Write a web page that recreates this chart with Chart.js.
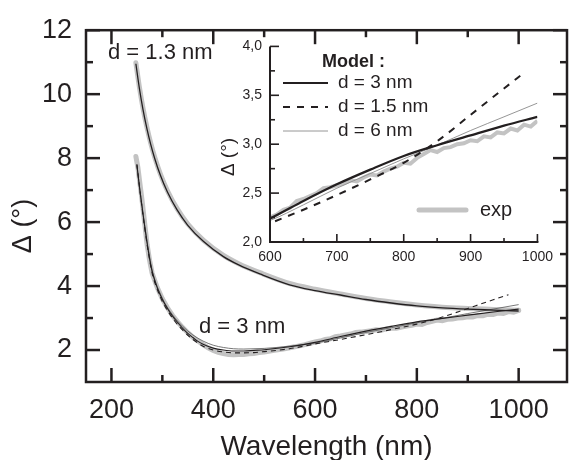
<!DOCTYPE html>
<html>
<head>
<meta charset="utf-8">
<script src="https://cdn.jsdelivr.net/npm/chart.js@4.4.1/dist/chart.umd.min.js"></script>
<style>
  html, body { margin:0; padding:0; background:#fff; }
  #wrap  { position:relative; width:570px; height:460px; }
  #main  { position:absolute; left:0; top:0; }
  #inset { position:absolute; left:215px; top:30px; }
</style>
</head>
<body>
<div id="wrap">
  <canvas id="main" width="570" height="460"></canvas>
  <canvas id="inset" width="345" height="240"></canvas>
</div>
<script>
// ── data ────────────────────────────────────────────────────────────────
const upperX      = [248,255,262,270,277,285,296,310,329,350,381,420,450,493,550,600,650,700,750,800,850,900,950,1000];
const upperModelY = [10.95,10.17,9.52,8.9,8.44,7.99,7.47,6.94,6.38,5.9,5.39,4.92,4.66,4.37,4.04,3.86,3.72,3.58,3.47,3.38,3.32,3.28,3.25,3.22];
const upperExpY   = [10.98,10.21,9.56,8.94,8.48,8.03,7.51,6.98,6.42,5.94,5.43,4.96,4.70,4.41,4.08,3.90,3.75,3.61,3.50,3.41,3.34,3.30,3.27,3.24];

const expX = [248,252,256,260,265,270,275,280,290,300,310,320,330,340,350,360,370,380,390,400,410,420,430,440,450,460,470,480,490,500,520,540,560,580,
              600,610,620,630,640,650,660,670,680,690,700,710,720,730,740,750,760,770,780,790,800,
              810,820,830,840,850,860,870,880,890,900,910,920,930,940,950,960,970,980,990,1000];
const expY = [8.05,7.7,7.2,6.7,6.0,5.3,4.8,4.4,3.95,3.6,3.32,3.08,2.88,2.7,2.54,2.4,2.28,2.17,2.07,1.99,1.93,1.89,1.86,1.85,1.86,1.86,1.88,1.89,1.92,1.94,1.99,2.04,2.10,2.17,
              2.25,2.28,2.33,2.35,2.42,2.44,2.47,2.50,2.55,2.56,2.58,2.60,2.63,2.62,2.66,2.69,2.68,2.72,2.75,2.77,2.81,
              2.80,2.86,2.90,2.94,2.92,2.96,2.97,3.00,3.01,3.04,3.03,3.08,3.07,3.12,3.11,3.16,3.14,3.20,3.18,3.24];

const d3X  = [250,255,260,265,270,275,280,290,300,310,320,330,340,350,360,370,380,400,420,440,460,480,500,550,600,650,700,750,800,850,900,950,1000];
const d3Y  = [7.8,7.1,6.5,5.9,5.35,4.85,4.45,3.95,3.58,3.3,3.06,2.86,2.68,2.52,2.39,2.27,2.18,2.06,2.0,1.97,1.97,1.99,2.01,2.1,2.24,2.42,2.59,2.74,2.88,2.99,3.09,3.19,3.28];
const d15X = [250,260,270,280,290,300,320,340,360,380,400,420,440,460,480,500,550,600,650,700,750,800,850,900,950,980];
const d15Y = [7.8,6.45,5.3,4.4,3.9,3.52,3.0,2.62,2.33,2.12,2.0,1.94,1.91,1.91,1.92,1.95,2.04,2.19,2.33,2.48,2.64,2.81,3.03,3.30,3.57,3.73];
const d6X  = [250,260,270,280,300,320,340,360,380,400,420,440,460,480,500,550,600,650,700,750,800,850,900,950,1000];
const d6Y  = [7.75,6.5,5.4,4.5,3.62,3.1,2.74,2.47,2.28,2.15,2.08,2.04,2.03,2.04,2.05,2.12,2.22,2.38,2.55,2.70,2.85,2.99,3.14,3.28,3.42];

const mainXTicks  = [200,400,600,800,1000];
const mainXMinor  = [300,500,700,900];
const mainYTicks  = [2,4,6,8,10,12];
const mainYMinor  = [3,5,7,9,11];
const insetXTicks = [600,700,800,900,1000];
const insetXMinor = [650,750,850,950];
const insetYTicks = [2,2.5,3,3.5,4];
const insetYMinor = [2.25,2.75,3.25,3.75];

const legendLabels = ['d = 3 nm','d = 1.5 nm','d = 6 nm'];

// ── styling ─────────────────────────────────────────────────────────────
const INK  = '#231f20';
const GREY = '#c3c3c3';
const FONT = '"Liberation Sans", Arial, sans-serif';

const pts = (xs, ys) => xs.map((v,i) => ({ x:v, y:ys[i] }));
const line = (data, x) => ({ data, showLine:true, pointRadius:0, fill:false, ...x });

// ── main chart: frame with inward ticks on all four sides ───────────────
const mainFrame = {
  id:'mainFrame',
  afterDraw(chart) {
    const { ctx, chartArea:a, scales:{ x, y } } = chart;
    ctx.save();
    ctx.strokeStyle = INK; ctx.lineWidth = 2.5; ctx.lineCap = 'butt';
    ctx.strokeRect(a.left, a.top, a.right - a.left, a.bottom - a.top);
    const seg = (x1,y1,x2,y2) => { ctx.beginPath(); ctx.moveTo(x1,y1); ctx.lineTo(x2,y2); ctx.stroke(); };
    [[mainXTicks,14],[mainXMinor,7]].forEach(([vals,len]) => vals.forEach(v => {
      const p = x.getPixelForValue(v);
      seg(p, a.bottom, p, a.bottom - len); seg(p, a.top, p, a.top + len);
    }));
    [[mainYTicks,14],[mainYMinor,7]].forEach(([vals,len]) => vals.forEach(v => {
      const p = y.getPixelForValue(v);
      seg(a.left, p, a.left + len, p); seg(a.right, p, a.right - len, p);
    }));
    // annotations + y title
    ctx.fillStyle = INK; ctx.textBaseline = 'middle'; ctx.textAlign = 'left';
    ctx.font = '22px ' + FONT;
    ctx.fillText('d = 1.3 nm', 108, 53);
    ctx.fillText('d = 3 nm', 199, 327);
    ctx.translate(24, 226); ctx.rotate(-Math.PI/2);
    ctx.textAlign = 'center'; ctx.font = '27px ' + FONT;
    ctx.fillText('\u0394 (\u00b0)', 0, 0);
    ctx.restore();
  }
};

new Chart(document.getElementById('main'), {
  type:'scatter',
  data:{ datasets:[
    line(pts(upperX, upperExpY),   { borderColor:GREY, borderWidth:5, borderCapStyle:'round', cubicInterpolationMode:'monotone', order:3 }),
    line(pts(expX, expY),          { borderColor:GREY, borderWidth:5, borderCapStyle:'round', order:3 }),
    line(pts(upperX, upperModelY), { borderColor:INK, borderWidth:1.3, cubicInterpolationMode:'monotone', order:1 }),
    line(pts(d3X, d3Y),            { borderColor:INK, borderWidth:1.1, cubicInterpolationMode:'monotone', order:1 }),
    line(pts(d15X, d15Y),          { borderColor:INK, borderWidth:1.1, borderDash:[5,4], cubicInterpolationMode:'monotone', order:1 }),
    line(pts(d6X, d6Y),            { borderColor:'#555', borderWidth:0.8, cubicInterpolationMode:'monotone', order:1 }),
  ]},
  options:{
    responsive:false, animation:false, events:[],
    layout:{ padding:{ top:27, right:3, left:0, bottom:0 } },
    plugins:{ legend:{ display:false }, tooltip:{ enabled:false } },
    scales:{
      x:{ type:'linear', min:150, max:1095,
          grid:{ display:false, drawTicks:false }, border:{ display:false },
          afterBuildTicks: s => { s.ticks = mainXTicks.map(v => ({ value:v })); },
          afterFit: s => { s.height = 78; },
          ticks:{ color:INK, font:{ size:27, family:FONT }, padding:12, maxRotation:0, callback: v => String(v) },
          title:{ display:true, text:'Wavelength (nm)', color:INK, font:{ size:28, family:FONT, lineHeight:1 }, padding:{ top:0, bottom:-1 } } },
      y:{ min:1, max:12,
          grid:{ display:false, drawTicks:false }, border:{ display:false },
          afterBuildTicks: s => { s.ticks = mainYTicks.map(v => ({ value:v })); },
          afterFit: s => { s.width = 86; },
          ticks:{ color:INK, font:{ size:27, family:FONT }, padding:14, callback: v => String(v) } },
    },
  },
  plugins:[mainFrame],
});

// ── inset: L-shaped axes, legend drawn inside ───────────────────────────
const insetAxes = {
  id:'insetAxes',
  afterDraw(chart) {
    const { ctx, chartArea:a, scales:{ x, y } } = chart;
    const ds = chart.data.datasets;
    ctx.save();
    ctx.strokeStyle = INK; ctx.lineWidth = 2;
    const seg = (x1,y1,x2,y2) => { ctx.beginPath(); ctx.moveTo(x1,y1); ctx.lineTo(x2,y2); ctx.stroke(); };
    seg(a.left, a.top, a.left, a.bottom + 1);
    seg(a.left - 1, a.bottom, a.right + 1, a.bottom);
    ctx.lineWidth = 1.6;
    [[insetXTicks,8],[insetXMinor,4]].forEach(([vals,len]) => vals.forEach(v => {
      const p = x.getPixelForValue(v); seg(p, a.bottom, p, a.bottom - len);
    }));
    [[insetYTicks,9],[insetYMinor,5]].forEach(([vals,len]) => vals.forEach(v => {
      const p = y.getPixelForValue(v); seg(a.left, p, a.left + len, p);
    }));
    // legend
    ctx.fillStyle = INK; ctx.textBaseline = 'middle'; ctx.textAlign = 'left';
    ctx.font = 'bold 18px ' + FONT;
    ctx.fillText('Model :', 107, 32);
    ctx.font = '19px ' + FONT;
    [1,2,3].forEach((k,i) => {
      const d = ds[k], yy = 53 + i*24;
      ctx.strokeStyle = d.borderColor; ctx.lineWidth = d.borderWidth;
      ctx.setLineDash(d.borderDash || []);
      seg(68, yy, 113, yy);
      ctx.fillText(legendLabels[i], 123, yy);
    });
    ctx.setLineDash([]);
    ctx.strokeStyle = ds[0].borderColor; ctx.lineWidth = 5; ctx.lineCap = 'round';
    seg(204, 180, 251, 180);
    ctx.font = '20px ' + FONT;
    ctx.fillText('exp', 265, 180);
    // y title
    ctx.translate(14, 127); ctx.rotate(-Math.PI/2);
    ctx.textAlign = 'center'; ctx.font = '19px ' + FONT;
    ctx.fillText('\u0394 (\u00b0)', 0, 0);
    ctx.restore();
  }
};

new Chart(document.getElementById('inset'), {
  type:'scatter',
  data:{ datasets:[
    line(pts(expX, expY),   { borderColor:GREY, borderWidth:4, order:3 }),
    line(pts(d3X, d3Y),     { borderColor:INK, borderWidth:2.2, cubicInterpolationMode:'monotone', order:1 }),
    line(pts(d15X, d15Y),   { borderColor:INK, borderWidth:2, borderDash:[7,7], cubicInterpolationMode:'monotone', order:1 }),
    line(pts(d6X, d6Y),     { borderColor:'#8a8a8a', borderWidth:0.9, cubicInterpolationMode:'monotone', order:1 }),
  ]},
  options:{
    responsive:false, animation:false, events:[],
    layout:{ padding:{ top:11, right:15, left:0, bottom:0 } },
    plugins:{ legend:{ display:false }, tooltip:{ enabled:false } },
    scales:{
      x:{ type:'linear', min:600, max:1000,
          grid:{ display:false, drawTicks:false }, border:{ display:false },
          afterBuildTicks: s => { s.ticks = insetXTicks.map(v => ({ value:v })); },
          afterFit: s => { s.height = 28; },
          ticks:{ color:INK, font:{ size:14, family:FONT }, padding:7, maxRotation:0, callback: v => String(v) } },
      y:{ min:2, max:4,
          grid:{ display:false, drawTicks:false }, border:{ display:false },
          afterBuildTicks: s => { s.ticks = insetYTicks.map(v => ({ value:v })); },
          afterFit: s => { s.width = 55; },
          ticks:{ color:INK, font:{ size:14, family:FONT }, padding:8,
                  callback: v => v.toFixed(1).replace('.', ',') } },
    },
  },
  plugins:[insetAxes],
});
</script>
</body>
</html>
